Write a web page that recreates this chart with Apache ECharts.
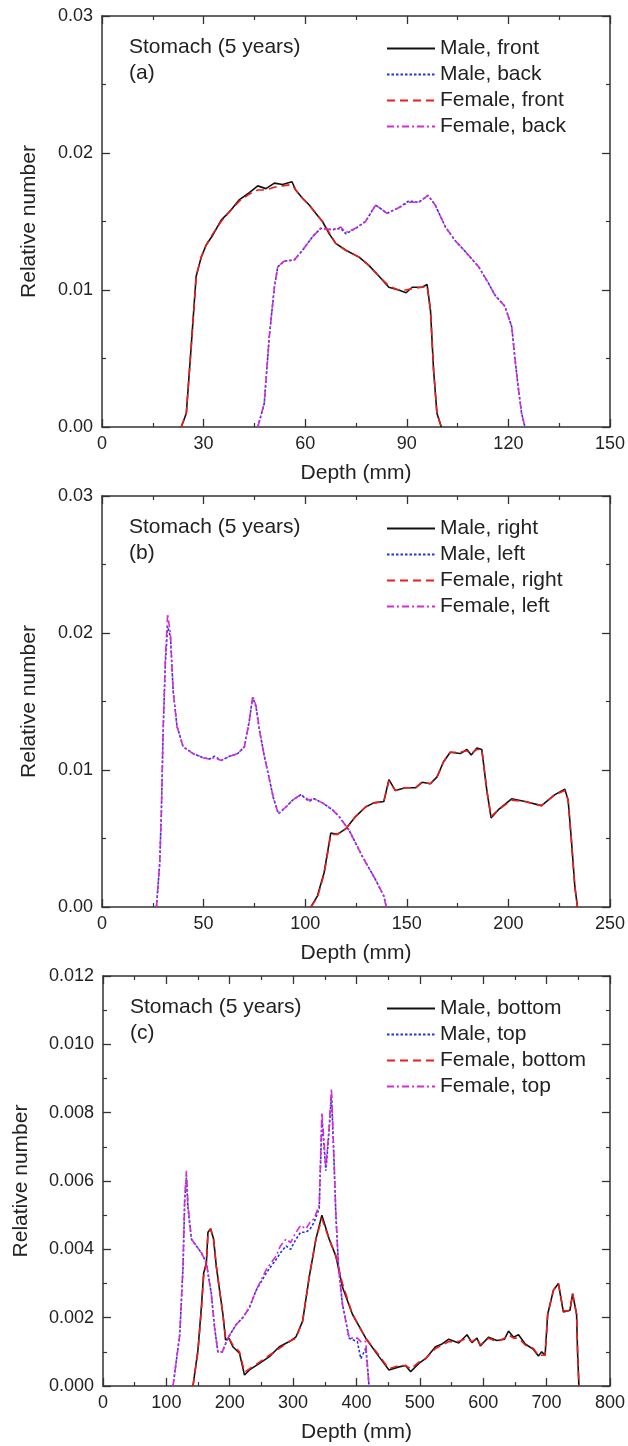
<!DOCTYPE html>
<html>
<head>
<meta charset="utf-8">
<script src="https://cdn.jsdelivr.net/npm/echarts@6/dist/echarts.min.js"></script>
<style>
  html, body { margin: 0; padding: 0; background: #fff; }
  #main { width: 628px; height: 1446px; }
</style>
</head>
<body>
<div id="main"></div>
<script>
// (a) front / back
var aFrontDepth = [23.4, 24.9, 26.4, 27.8, 29.3, 30.8, 32.7, 35.2, 37.6, 40.6, 43.5, 46.0, 48.4, 50.9, 53.3, 56.1, 57.2, 59.2, 61.2, 63.1, 65.1, 67.1, 69.0, 72.0, 75.9, 78.8, 81.8, 84.7, 87.6, 89.8, 91.6, 94.5, 96.0, 97.0, 97.9, 98.9, 100.2];
var aMaleFront = [0, 0.0010, 0.0061, 0.0110, 0.0124, 0.0133, 0.0140, 0.0151, 0.0157, 0.0166, 0.0171, 0.0176, 0.0174, 0.0178, 0.0177, 0.0179, 0.0173, 0.0167, 0.0162, 0.0156, 0.0150, 0.0141, 0.0134, 0.0129, 0.0124, 0.0118, 0.0110, 0.0102, 0.0100, 0.0098, 0.0102, 0.0102, 0.0104, 0.0085, 0.0042, 0.0010, 0];
var aFemaleFront = [0, 0.0010, 0.0060, 0.0110, 0.0124, 0.0133, 0.0141, 0.0150, 0.0157, 0.0165, 0.0170, 0.0173, 0.0173, 0.0175, 0.0176, 0.0177, 0.0173, 0.0167, 0.0162, 0.0156, 0.0150, 0.0142, 0.0134, 0.0129, 0.0124, 0.0118, 0.0110, 0.0103, 0.0100, 0.0100, 0.0101, 0.0102, 0.0103, 0.0085, 0.0042, 0.0010, 0];
var aBackDepth = [46.0, 47.9, 49.4, 50.9, 51.9, 53.8, 56.8, 59.2, 62.2, 64.6, 68.0, 70.5, 72.0, 74.9, 77.8, 80.8, 84.2, 87.6, 90.6, 93.5, 96.3, 98.4, 101.4, 104.3, 107.3, 111.2, 114.1, 116.1, 119.0, 121.0, 121.9, 122.9, 123.9, 124.9];
var aMaleBack = [0, 0.0017, 0.0066, 0.0102, 0.0117, 0.0121, 0.0122, 0.0129, 0.0139, 0.0145, 0.0144, 0.0145, 0.0141, 0.0145, 0.0150, 0.0162, 0.0156, 0.0160, 0.0165, 0.0164, 0.0169, 0.0162, 0.0146, 0.0136, 0.0128, 0.0117, 0.0105, 0.0096, 0.0088, 0.0073, 0.0051, 0.0029, 0.0010, 0];
var aFemaleBack = [0, 0.0017, 0.0066, 0.0102, 0.0117, 0.0121, 0.0122, 0.0129, 0.0139, 0.0145, 0.0144, 0.0146, 0.0142, 0.0145, 0.0150, 0.0162, 0.0156, 0.0160, 0.0164, 0.0164, 0.0169, 0.0162, 0.0146, 0.0136, 0.0128, 0.0117, 0.0105, 0.0096, 0.0088, 0.0073, 0.0051, 0.0029, 0.0010, 0];

// (b) right / left
var bLeftDepth = [26.8, 28.4, 29.2, 30.1, 31.2, 32.3, 33.7, 35.0, 36.9, 39.9, 44.8, 49.7, 52.9, 55.4, 58.7, 62.7, 66.8, 70.1, 72.5, 74.2, 75.8, 77.5, 79.9, 82.4, 84.3, 86.8, 90.5, 93.8, 97.9, 101.9, 104.4, 108.5, 113.4, 116.7, 121.6, 128.1, 134.6, 138.7, 139.9];
var bMaleLeft = [0, 0.0032, 0.0068, 0.0129, 0.0178, 0.0205, 0.0197, 0.0158, 0.0132, 0.0117, 0.0112, 0.0109, 0.0108, 0.0110, 0.0107, 0.0110, 0.0112, 0.0117, 0.0136, 0.0153, 0.0146, 0.0129, 0.0110, 0.0093, 0.0080, 0.0068, 0.0073, 0.0078, 0.0082, 0.0077, 0.0079, 0.0076, 0.0071, 0.0066, 0.0056, 0.0037, 0.0020, 0.0008, 0];
var bFemaleLeft = [0, 0.0032, 0.0068, 0.0130, 0.0182, 0.0214, 0.0199, 0.0158, 0.0132, 0.0117, 0.0112, 0.0109, 0.0108, 0.0109, 0.0107, 0.0110, 0.0112, 0.0117, 0.0136, 0.0154, 0.0147, 0.0129, 0.0110, 0.0093, 0.0080, 0.0068, 0.0073, 0.0078, 0.0082, 0.0078, 0.0079, 0.0076, 0.0071, 0.0066, 0.0056, 0.0037, 0.0020, 0.0008, 0];
var bRightDepth = [102.8, 106.0, 109.3, 112.6, 115.8, 119.9, 124.8, 129.7, 133.8, 138.7, 141.2, 144.4, 149.3, 154.3, 157.5, 161.6, 164.9, 168.1, 171.4, 176.3, 179.6, 181.7, 184.5, 186.9, 189.4, 191.5, 195.1, 201.6, 208.2, 216.3, 222.9, 227.8, 229.4, 231.0, 232.7, 234.0];
var bMaleRight = [0, 0.0008, 0.0025, 0.0054, 0.0053, 0.0057, 0.0066, 0.0073, 0.0076, 0.0077, 0.0093, 0.0085, 0.0087, 0.0087, 0.0091, 0.0090, 0.0095, 0.0106, 0.0113, 0.0112, 0.0115, 0.0111, 0.0116, 0.0115, 0.0085, 0.0065, 0.0071, 0.0079, 0.0077, 0.0074, 0.0082, 0.0086, 0.0078, 0.0049, 0.0015, 0];
var bFemaleRight = [0, 0.0007, 0.0024, 0.0053, 0.0053, 0.0057, 0.0066, 0.0073, 0.0076, 0.0077, 0.0092, 0.0085, 0.0087, 0.0087, 0.0091, 0.0090, 0.0095, 0.0106, 0.0113, 0.0113, 0.0114, 0.0112, 0.0115, 0.0115, 0.0085, 0.0066, 0.0071, 0.0078, 0.0077, 0.0074, 0.0082, 0.0085, 0.0078, 0.0049, 0.0015, 0];

// (c) bottom / top
var cTopDepth = [110.5, 121.1, 126.3, 128.9, 131.6, 134.1, 139.5, 147.3, 155.2, 163.1, 170.9, 176.1, 181.3, 188.2, 197.0, 210.2, 220.6, 231.1, 241.6, 257.4, 265.0, 273.1, 280.0, 288.8, 296.0, 304.6, 312.0, 320.3, 327.0, 333.3, 341.2, 345.4, 351.7, 356.9, 360.5, 363.7, 367.5, 371.6, 377.8, 388.4, 401.4, 406.8, 414.6, 417.2, 419.8];
var cMaleTop = [0, 0.0015, 0.0035, 0.0054, 0.0061, 0.0052, 0.0043, 0.0041, 0.0039, 0.0036, 0.0027, 0.0017, 0.0010, 0.0010, 0.0014, 0.0018, 0.0020, 0.0023, 0.0028, 0.0033, 0.0035, 0.0037, 0.0039, 0.0041, 0.0040, 0.0043, 0.0045, 0.0045, 0.0046, 0.0048, 0.0052, 0.0078, 0.0063, 0.0075, 0.0085, 0.0070, 0.0050, 0.0035, 0.0024, 0.0014, 0.0013, 0.0008, 0.0011, 0.0006, 0];
var cFemaleTop = [0, 0.0015, 0.0035, 0.0055, 0.0063, 0.0053, 0.0043, 0.0041, 0.0039, 0.0036, 0.0027, 0.0017, 0.0010, 0.0010, 0.0014, 0.0018, 0.0020, 0.0023, 0.0028, 0.0034, 0.0036, 0.0038, 0.0041, 0.0043, 0.0042, 0.0045, 0.0047, 0.0046, 0.0048, 0.0049, 0.0053, 0.0080, 0.0064, 0.0076, 0.0087, 0.0071, 0.0050, 0.0035, 0.0024, 0.0014, 0.0014, 0.0013, 0.0013, 0.0006, 0];
var cBottomDepth = [142, 149.8, 155.2, 158.8, 163.1, 165.6, 169.8, 174.5, 178.8, 184, 189.2, 193.4, 198.6, 204.9, 215.4, 223.3, 231.1, 246.9, 262.6, 278.3, 294, 304.6, 315, 325.5, 336, 345.4, 356.9, 367.5, 377.8, 393.6, 414.6, 435.5, 451.3, 467, 477.5, 485.4, 498.4, 509, 524.7, 535.1, 545.6, 561.3, 574.4, 582.2, 590.1, 595.4, 608.5, 621.5, 633.6, 639.9, 647.8, 655.7, 666.2, 679.2, 687.1, 692.3, 697.6, 701.7, 710.7, 718.6, 726.4, 736.9, 741, 747.3, 748.9, 751];
var cMaleBottom = [0, 0.00105, 0.0023, 0.0033, 0.0036, 0.0045, 0.0046, 0.0043, 0.0035, 0.0028, 0.0021, 0.00135, 0.0014, 0.00115, 0.00096, 0.00032, 0.00047, 0.00066, 0.00086, 0.00115, 0.0013, 0.00144, 0.0019, 0.0032, 0.0043, 0.0050, 0.0043, 0.0038, 0.0029, 0.0021, 0.0014, 0.00086, 0.00047, 0.00056, 0.0006, 0.00042, 0.00066, 0.0008, 0.00115, 0.00123, 0.00137, 0.00126, 0.0015, 0.00127, 0.0014, 0.00117, 0.00143, 0.00133, 0.00137, 0.00161, 0.00143, 0.0015, 0.00123, 0.00107, 0.00088, 0.0010, 0.0009, 0.0021, 0.0028, 0.0030, 0.00217, 0.00222, 0.0027, 0.0021, 0.00096, 0];
var cFemaleBottom = [0, 0.0010, 0.0022, 0.0032, 0.0036, 0.0044, 0.0046, 0.0043, 0.0035, 0.0028, 0.0021, 0.0014, 0.0014, 0.0012, 0.0010, 0.0004, 0.0005, 0.0007, 0.0009, 0.0011, 0.0013, 0.0014, 0.0019, 0.0032, 0.0043, 0.0049, 0.0043, 0.0038, 0.0030, 0.0021, 0.0014, 0.0009, 0.0005, 0.0006, 0.0006, 0.0005, 0.0007, 0.0008, 0.0011, 0.0012, 0.0013, 0.0013, 0.0014, 0.0013, 0.0014, 0.0012, 0.0014, 0.0013, 0.0014, 0.0015, 0.0014, 0.0014, 0.0012, 0.0011, 0.0009, 0.0009, 0.0009, 0.0021, 0.0028, 0.0030, 0.0022, 0.0022, 0.0027, 0.0021, 0.0010, 0];

var namesA = ['Male, front', 'Male, back', 'Female, front', 'Female, back'];
var namesB = ['Male, right', 'Male, left', 'Female, right', 'Female, left'];
var namesC = ['Male, bottom', 'Male, top', 'Female, bottom', 'Female, top'];

var FONT = "'Liberation Sans', Arial, sans-serif";
var AXIS_COLOR = '#333';
var TEXT_COLOR = '#222';

function zip(xs, ys) {
  var out = [];
  for (var i = 0; i < xs.length && i < ys.length; i++) out.push([xs[i], ys[i]]);
  return out;
}

// 4 line styles: solid black, dotted blue, dashed red, dash-dot magenta
var styles = [
  { color: '#111111', type: 'solid' },
  { color: '#2233dd', type: [2.5, 2] },
  { color: '#ee1c1c', type: [8, 5] },
  { color: '#d62cd6', type: [7, 3, 2, 3] }
];

function mkSeries(names, datas, idx) {
  var out = [];
  for (var i = 0; i < 4; i++) {
    out.push({
      name: names[i],
      type: 'line',
      xAxisIndex: idx * 2,
      yAxisIndex: idx * 2,
      data: datas[i],
      symbol: 'none',
      showSymbol: false,
      smooth: false,
      color: styles[i].color,
      lineStyle: { color: styles[i].color, width: 1.6, type: styles[i].type },
      animation: false
    });
  }
  return out;
}

function mkX(grid, max, interval, top, nameGap) {
  return {
    type: 'value', gridIndex: grid, min: 0, max: max, interval: interval,
    position: top ? 'top' : 'bottom',
    name: top ? '' : 'Depth (mm)', nameLocation: 'middle', nameGap: nameGap,
    nameTextStyle: { fontFamily: FONT, fontSize: 21, color: TEXT_COLOR },
    axisLine: { show: true, onZero: false, lineStyle: { color: AXIS_COLOR, width: 1.5 } },
    axisTick: { show: true, inside: true, length: 8, lineStyle: { color: AXIS_COLOR, width: 1.3 } },
    minorTick: { show: true, splitNumber: 2, length: 4, lineStyle: { color: AXIS_COLOR, width: 1.2 } },
    axisLabel: { show: !top, margin: 8, fontFamily: FONT, fontSize: 18, color: TEXT_COLOR },
    splitLine: { show: false }, minorSplitLine: { show: false }
  };
}

function mkY(grid, max, interval, right, digits, nameGap) {
  return {
    type: 'value', gridIndex: grid, min: 0, max: max, interval: interval,
    position: right ? 'right' : 'left',
    name: right ? '' : 'Relative number', nameLocation: 'middle', nameGap: nameGap,
    nameTextStyle: { fontFamily: FONT, fontSize: 21, color: TEXT_COLOR },
    axisLine: { show: true, onZero: false, lineStyle: { color: AXIS_COLOR, width: 1.5 } },
    axisTick: { show: true, inside: true, length: 8, lineStyle: { color: AXIS_COLOR, width: 1.3 } },
    minorTick: { show: true, splitNumber: 2, length: 4, lineStyle: { color: AXIS_COLOR, width: 1.2 } },
    axisLabel: { show: !right, margin: 9, fontFamily: FONT, fontSize: 18, color: TEXT_COLOR,
      formatter: function (v) { return v.toFixed(digits); } },
    splitLine: { show: false }, minorSplitLine: { show: false }
  };
}

function mkLegend(names, top) {
  return {
    data: names, orient: 'vertical', left: 386, top: top,
    padding: 0,
    itemWidth: 48, itemHeight: 14, itemGap: 5,
    selectedMode: false,
    itemStyle: { opacity: 0 },
    textStyle: { fontFamily: FONT, fontSize: 21, color: TEXT_COLOR, lineHeight: 21 }
  };
}

function mkLabel(txt, left, top) {
  return { type: 'text', left: left, top: top,
    style: { text: txt, font: '21px ' + FONT, fill: TEXT_COLOR } };
}

var dom = document.getElementById('main');
var myChart = echarts.init(dom, null, { renderer: 'canvas' });

var series = []
  .concat(mkSeries(namesA, [zip(aFrontDepth, aMaleFront), zip(aBackDepth, aMaleBack), zip(aFrontDepth, aFemaleFront), zip(aBackDepth, aFemaleBack)], 0))
  .concat(mkSeries(namesB, [zip(bRightDepth, bMaleRight), zip(bLeftDepth, bMaleLeft), zip(bRightDepth, bFemaleRight), zip(bLeftDepth, bFemaleLeft)], 1))
  .concat(mkSeries(namesC, [zip(cBottomDepth, cMaleBottom), zip(cTopDepth, cMaleTop), zip(cBottomDepth, cFemaleBottom), zip(cTopDepth, cFemaleTop)], 2));

var option = {
  backgroundColor: '#fff',
  animation: false,
  grid: [
    { left: 102, width: 510, top: 16, height: 411 },
    { left: 102, width: 510, top: 496, height: 411 },
    { left: 103, width: 509, top: 976, height: 410 }
  ],
  xAxis: [
    mkX(0, 150, 30, false, 36), mkX(0, 150, 30, true, 0),
    mkX(1, 250, 50, false, 36), mkX(1, 250, 50, true, 0),
    mkX(2, 800, 100, false, 36), mkX(2, 800, 100, true, 0)
  ],
  yAxis: [
    mkY(0, 0.03, 0.01, false, 2, 62), mkY(0, 0.03, 0.01, true, 2, 0),
    mkY(1, 0.03, 0.01, false, 2, 62), mkY(1, 0.03, 0.01, true, 2, 0),
    mkY(2, 0.012, 0.002, false, 3, 71), mkY(2, 0.012, 0.002, true, 3, 0)
  ],
  legend: [ mkLegend(namesA, 38), mkLegend(namesB, 518), mkLegend(namesC, 998) ],
  graphic: [
    mkLabel('Stomach (5 years)', 129, 37), mkLabel('(a)', 129, 63),
    mkLabel('Stomach (5 years)', 129, 517), mkLabel('(b)', 129, 543),
    mkLabel('Stomach (5 years)', 130, 997), mkLabel('(c)', 130, 1023)
  ],
  series: series
};

if (option && typeof option === "object") {
  myChart.setOption(option, true);
}
</script>
</body>
</html>
